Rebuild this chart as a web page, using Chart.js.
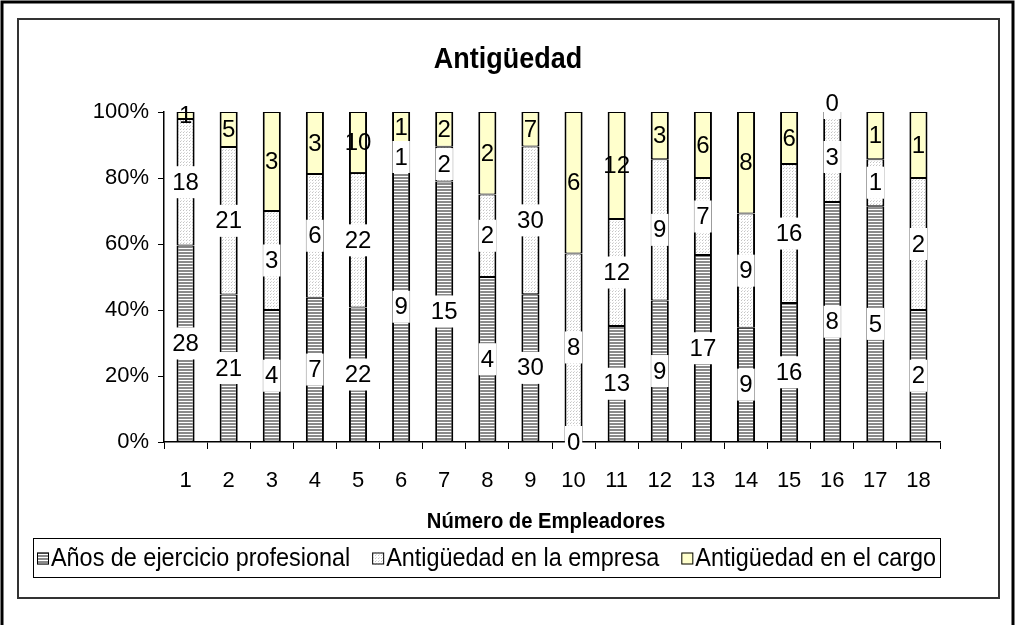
<!DOCTYPE html>
<html>
<head>
<meta charset="utf-8">
<script src="https://cdn.jsdelivr.net/npm/chart.js@4/dist/chart.umd.min.js"></script>
<style>
  html, body { margin: 0; padding: 0; background: #fff; }
  #wrap { width: 1016px; height: 625px; }
</style>
</head>
<body>
<div id="wrap"><canvas id="antiguedadChart" width="1016" height="625"></canvas></div>
<script>
// Antigüedad - stacked 100% bars
const categories = ['1', '2', '3', '4', '5', '6', '7', '8', '9', '10', '11', '12', '13', '14', '15', '16', '17', '18'];
const aniosEjercicio = [28, 21, 4, 7, 22, 9, 15, 4, 30, 0, 13, 9, 17, 9, 16, 8, 5, 2];
const antigEmpresa = [18, 21, 3, 6, 22, 1, 2, 2, 30, 8, 12, 9, 7, 9, 16, 3, 1, 2];
const antigCargo = [1, 5, 3, 3, 10, 1, 2, 2, 7, 6, 12, 3, 6, 8, 6, 0, 1, 1];
const seriesNames = ['Años de ejercicio profesional', 'Antigüedad en la empresa', 'Antigüedad en el cargo'];
const yTickLabels = ['0%', '20%', '40%', '60%', '80%', '100%'];

const FONT = '"Liberation Sans", Arial, sans-serif';

const raw = [aniosEjercicio, antigEmpresa, antigCargo];
const totals = categories.map((c, i) => aniosEjercicio[i] + antigEmpresa[i] + antigCargo[i]);
const pct = arr => arr.map((v, i) => v / totals[i] * 100);

// fill patterns like the old excel ones
function stripes() {
    const c = document.createElement('canvas');
    c.width = 4; c.height = 3;
    const g = c.getContext('2d');
    g.fillStyle = '#ffffff'; g.fillRect(0, 0, 4, 3);
    g.fillStyle = '#8a8a8a'; g.fillRect(0, 0, 4, 2);
    return g.createPattern(c, 'repeat');
}
function dots() {
    const c = document.createElement('canvas');
    c.width = 3; c.height = 3;
    const g = c.getContext('2d');
    g.fillStyle = '#ffffff'; g.fillRect(0, 0, 3, 3);
    g.fillStyle = '#c4c4c4'; g.fillRect(0, 0, 1, 1);
    g.fillStyle = '#dcdcdc'; g.fillRect(1, 2, 1, 1);
    return g.createPattern(c, 'repeat');
}
const fills = [stripes(), dots(), '#ffffcc'];

// narrow-looking text: squeeze horizontally
function narrowText(ctx, txt, x, y, sx) {
    ctx.save();
    ctx.translate(x, y);
    ctx.scale(sx, 1);
    ctx.fillText(txt, 0, 0);
    ctx.restore();
}

const framePlugin = {
    id: 'frame',
    beforeDraw(chart) {
        const ctx = chart.ctx;
        ctx.save();
        ctx.fillStyle = '#fff';
        ctx.fillRect(0, 0, chart.width, chart.height);
        // outer frame
        ctx.strokeStyle = '#000';
        ctx.lineWidth = 3;
        ctx.beginPath();
        ctx.moveTo(2, 625); ctx.lineTo(2, 2); ctx.lineTo(1013, 2); ctx.lineTo(1013, 625);
        ctx.stroke();
        // inner frame
        ctx.lineWidth = 2;
        ctx.strokeStyle = '#333';
        ctx.strokeRect(18, 19, 981, 579);
        // titles
        ctx.fillStyle = '#000';
        ctx.textAlign = 'center';
        ctx.textBaseline = 'middle';
        ctx.font = 'bold 29px ' + FONT;
        narrowText(ctx, 'Antigüedad', 508, 60, 0.93);
        ctx.font = 'bold 22px ' + FONT;
        narrowText(ctx, 'Número de Empleadores', 546, 522, 0.92);
        ctx.restore();
    },
    afterDraw(chart) {
        // legend with its box
        const ctx = chart.ctx;
        ctx.save();
        const sx = 0.9;
        ctx.font = '26px ' + FONT;
        ctx.textBaseline = 'middle';
        ctx.textAlign = 'left';
        const boxL = 33, boxR = 940, boxT = 538, boxB = 577;
        ctx.lineWidth = 1;
        ctx.strokeStyle = '#000';
        ctx.strokeRect(boxL + 0.5, boxT + 0.5, boxR - boxL, boxB - boxT);
        const widths = seriesNames.map(n => ctx.measureText(n).width * sx);
        const icon = 12, gapIcon = 2;
        const used = widths.reduce((a, b) => a + b, 0) + 3 * (icon + gapIcon);
        const gap = (boxR - boxL - 8 - used) / 2;
        let x = boxL + 4;
        const cy = (boxT + boxB) / 2 + 1;
        seriesNames.forEach((n, i) => {
            ctx.fillStyle = fills[i];
            ctx.fillRect(x, cy - icon / 2, icon, icon);
            ctx.strokeRect(x + 0.5, cy - icon / 2 + 0.5, icon - 1, icon - 1);
            ctx.fillStyle = '#000';
            narrowText(ctx, n, x + icon + gapIcon, cy, sx);
            x += icon + gapIcon + widths[i] + gap;
        });
        ctx.restore();
    }
};

const labelPlugin = {
    id: 'valueLabels',
    afterDatasetsDraw(chart) {
        const ctx = chart.ctx;
        ctx.save();
        ctx.font = '24px ' + FONT;
        ctx.textAlign = 'center';
        ctx.textBaseline = 'middle';
        chart.data.datasets.forEach((ds, d) => {
            const meta = chart.getDatasetMeta(d);
            meta.data.forEach((bar, i) => {
                const v = raw[d][i];
                const txt = String(v);
                let cy = (bar.y + bar.base) / 2;
                if (v === 0 && d === 2) cy -= 9;
                const w = ctx.measureText(txt).width;
                if (d < 2 || v === 0) {
                    ctx.fillStyle = '#fff';
                    ctx.fillRect(bar.x - w / 2 - 2, cy - 16, w + 4, 32);
                }
                ctx.fillStyle = '#000';
                ctx.fillText(txt, bar.x, cy + 1);
            });
        });
        ctx.restore();
    }
};

const ctxEl = document.getElementById('antiguedadChart');
new Chart(ctxEl, {
    type: 'bar',
    data: {
        labels: categories,
        datasets: raw.map((arr, d) => ({
            label: seriesNames[d],
            data: pct(arr),
            backgroundColor: fills[d],
            borderColor: '#000',
            borderWidth: { top: 1, bottom: 1, left: 2, right: 2 },
            borderSkipped: false,
            barPercentage: 0.42,
            categoryPercentage: 1
        }))
    },
    options: {
        responsive: false,
        animation: false,
        layout: {
            padding: { left: 31, right: 76, top: 112, bottom: 103 }
        },
        plugins: {
            legend: { display: false },
            title: { display: false },
            tooltip: { enabled: false }
        },
        scales: {
            x: {
                stacked: true,
                afterFit: s => { s.height = 80; },
                grid: {
                    drawOnChartArea: false,
                    drawTicks: true,
                    tickLength: 7,
                    color: '#000',
                    offset: true
                },
                border: { color: '#000', width: 1.5 },
                ticks: {
                    color: '#000',
                    padding: 19,
                    maxRotation: 0,
                    autoSkip: false,
                    font: { family: FONT, size: 22 }
                }
            },
            y: {
                stacked: true,
                min: 0,
                max: 100,
                afterFit: s => { s.width = 133; },
                grid: {
                    drawOnChartArea: false,
                    drawTicks: true,
                    tickLength: 6,
                    color: '#000'
                },
                border: { color: '#000', width: 1.5 },
                ticks: {
                    stepSize: 20,
                    color: '#000',
                    padding: 9,
                    font: { family: FONT, size: 22 },
                    callback: (v, i) => yTickLabels[i]
                }
            }
        }
    },
    plugins: [framePlugin, labelPlugin]
});
</script>
</body>
</html>
